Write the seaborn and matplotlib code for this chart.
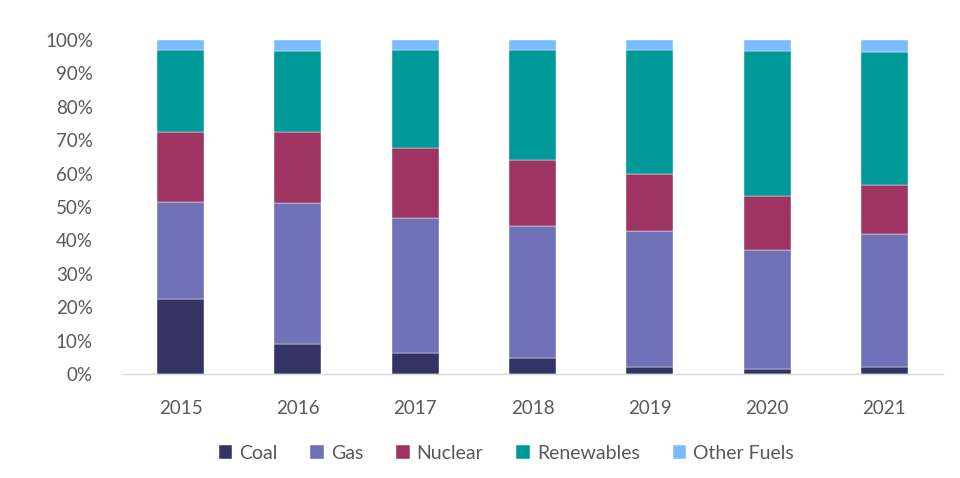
import seaborn as sns
import pandas as pd
import numpy as np
import matplotlib.pyplot as plt

# data (share of generation, %)
years = ['2015', '2016', '2017', '2018', '2019', '2020', '2021']
coal = [22.4, 9.0, 6.4, 4.7, 2.0, 1.4, 2.0]
gas = [29.2, 42.1, 40.4, 39.7, 40.8, 35.8, 39.9]
nuclear = [20.9, 21.4, 21.0, 19.7, 17.2, 16.1, 14.7]
renewables = [24.6, 24.3, 29.3, 33.0, 37.1, 43.3, 39.7]
other = [2.9, 3.2, 2.9, 2.9, 2.9, 3.4, 3.7]

fuels = ['Coal', 'Gas', 'Nuclear', 'Renewables', 'Other Fuels']
colors = ['#333366', '#7171B8', '#9E3461', '#009999', '#7ABCFF']

df = pd.DataFrame({'Year': years, 'Coal': coal, 'Gas': gas, 'Nuclear': nuclear,
                   'Renewables': renewables, 'Other Fuels': other})

sns.set_style('white')
plt.rcParams['font.family'] = ['Lato', 'DejaVu Sans']
text_col = '#595959'

fig = plt.figure(figsize=(9.6, 4.78), dpi=100)
ax = fig.add_axes([122 / 960, 1 - 374 / 478, 821 / 960, 334 / 478])

bottom = np.zeros(len(years))
for fuel, col in zip(fuels, colors):
    sns.barplot(data=df, x='Year', y=fuel, color=col, saturation=1, bottom=bottom,
                width=0.4, label=fuel, ax=ax, edgecolor='white', linewidth=0.3)
    bottom = bottom + df[fuel].values

ax.set_xlim(-0.5, len(years) - 0.5)
ax.set_ylim(0, 100)
ax.set_yticks(range(0, 101, 10))
ax.set_yticklabels([f'{v}%' for v in range(0, 101, 10)])
ax.set_xlabel('')
ax.set_ylabel('')

# category-boundary ticks like the original
ax.set_xticks(np.arange(-0.5, len(years), 1), minor=True)
ax.tick_params(axis='x', which='minor', length=7, width=1, color='#D9D9D9', direction='out')
ax.tick_params(axis='x', which='major', length=0, pad=19, labelsize=13.5, labelcolor=text_col)
ax.tick_params(axis='y', length=0, pad=21, labelsize=13.5, labelcolor=text_col)

for s in ['top', 'right', 'left']:
    ax.spines[s].set_visible(False)
ax.spines['bottom'].set_color('#D9D9D9')
ax.spines['bottom'].set_linewidth(1)

ax.legend(loc='upper center', bbox_to_anchor=(0.468, -0.16), ncol=5, frameon=False,
          fontsize=14, labelcolor=text_col, handlelength=0.7, handleheight=0.7,
          handletextpad=0.35, columnspacing=1.7)

fig.savefig('out.png', dpi=100)
